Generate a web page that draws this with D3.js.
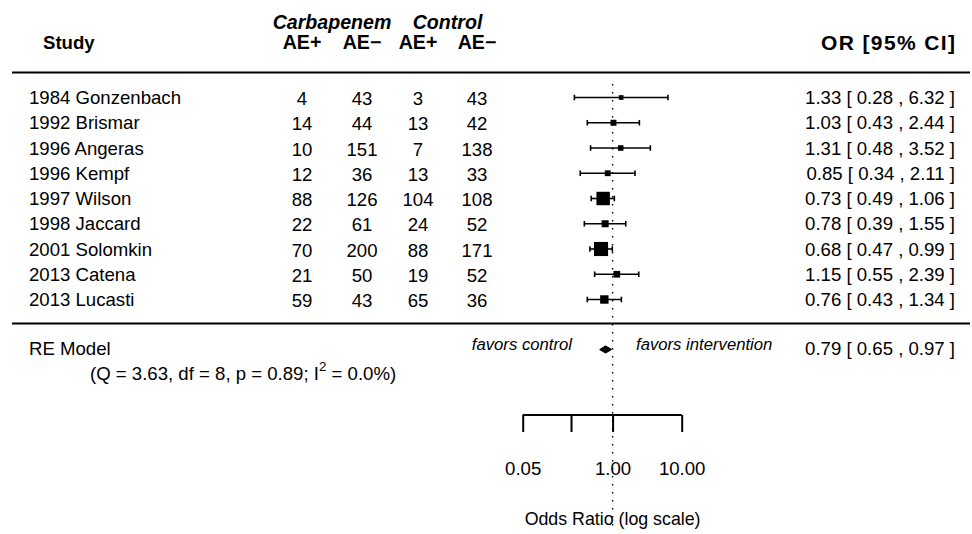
<!DOCTYPE html>
<html><head><meta charset="utf-8">
<script src="https://cdn.jsdelivr.net/npm/d3@7"></script>
<style>
html,body{margin:0;padding:0;background:#fff;}
svg text{font-family:"Liberation Sans",Arial,Helvetica,sans-serif;fill:#000;}
</style></head>
<body><svg id="c" width="972" height="534"></svg>
<script>
// ---- data ----
const studies = ["1984 Gonzenbach","1992 Brismar","1996 Angeras","1996 Kempf","1997 Wilson","1998 Jaccard","2001 Solomkin","2013 Catena","2013 Lucasti"];
const carbAEpos = [4,14,10,12,88,22,70,21,59];
const carbAEneg = [43,44,151,36,126,61,200,50,43];
const ctrlAEpos = [3,13,7,13,104,24,88,19,65];
const ctrlAEneg = [43,42,138,33,108,52,171,52,36];
const orValues = [1.33,1.03,1.31,0.85,0.73,0.78,0.68,1.15,0.76];
const ciLower = [0.28,0.43,0.48,0.34,0.49,0.39,0.47,0.55,0.43];
const ciUpper = [6.32,2.44,3.52,2.11,1.06,1.55,0.99,2.39,1.34];
const summaryOR = 0.79, summaryLower = 0.65, summaryUpper = 0.97;
const heterogeneity = {Q:"3.63", df:"8", p:"0.89", I2:"0.0"};
const tickValues = [0.05, 0.25, 1, 10];
const tickLabels = ["0.05", "", "1.00", "10.00"];

// ---- layout ----
const svg = d3.select("#c");
const FS = 18.6;     // body text
const HFS = 19.6;    // header text
const x = d3.scaleLog().domain([0.05, 10]).range([522.7, 681.7]);
const y = d3.scalePoint().domain(d3.range(studies.length)).range([97.5, 299.5]);
const colX = [302, 362, 418, 477];
const annX = 955;

const fmt = d3.format(".2f");

// horizontal rules
[72.5, 323.5].forEach(yy => svg.append("line").attr("x1",12).attr("x2",970)
  .attr("y1",yy).attr("y2",yy).attr("stroke","#000").attr("stroke-width",2));

// reference line at 1
svg.append("line").attr("x1",x(1)).attr("x2",x(1)).attr("y1",84).attr("y2",529)
  .attr("stroke","#000").attr("stroke-width",1.4).attr("stroke-dasharray","1.6,6.4");

// headers
const hdr = (t, xx, yy, anchor, style) => svg.append("text").attr("x",xx).attr("y",yy)
  .attr("text-anchor",anchor).attr("dominant-baseline","central")
  .attr("font-size",HFS).attr("font-weight","bold").attr("font-style",style||"normal").text(t);
hdr("Carbapenem", (colX[0]+colX[1])/2, 21.7, "middle", "italic");
hdr("Control", (colX[2]+colX[3])/2, 21.7, "middle", "italic");
hdr("Study", 43, 42, "start").attr("font-size",FS);
["AE+","AE\u2212","AE+","AE\u2212"].forEach((t,i)=>hdr(t,colX[i],42,"middle"));
hdr("OR [95% CI]", annX, 42, "end").attr("font-size",21).attr("textLength",134).attr("lengthAdjust","spacing");

// study rows
const rows = svg.append("g");
const txt = (g, t, xx, yy, anchor) => g.append("text").attr("x",xx).attr("y",yy)
  .attr("text-anchor",anchor).attr("dominant-baseline","central").attr("font-size",FS).text(t);

// weights for square sizes (inverse variance from CI)
const se = ciLower.map((l,i)=> (Math.log(ciUpper[i])-Math.log(l))/(2*1.96));
const w = se.map(s=>1/(s*s));
const wMin = d3.min(w), wMax = d3.max(w);
const side = w.map(v => 9.4*(0.5 + (v-wMin)/(wMax-wMin)));

studies.forEach((s,i)=>{
  const yy = y(i);
  txt(rows, s, 29, yy, "start");
  [carbAEpos[i], carbAEneg[i], ctrlAEpos[i], ctrlAEneg[i]].forEach((v,j)=>txt(rows, v, colX[j], yy+1, "middle"));
  txt(rows, `${fmt(orValues[i])} [ ${fmt(ciLower[i])} , ${fmt(ciUpper[i])} ]`, annX, yy, "end");
  // CI
  rows.append("line").attr("x1",x(ciLower[i])).attr("x2",x(ciUpper[i])).attr("y1",yy).attr("y2",yy)
    .attr("stroke","#000").attr("stroke-width",1.6);
  [ciLower[i], ciUpper[i]].forEach(v=>rows.append("line").attr("x1",x(v)).attr("x2",x(v))
    .attr("y1",yy-2.8).attr("y2",yy+2.8).attr("stroke","#000").attr("stroke-width",1.6));
  rows.append("rect").attr("x",x(orValues[i])-side[i]/2).attr("y",yy-side[i]/2)
    .attr("width",side[i]).attr("height",side[i]).attr("fill","#000");
});

// summary
const sy = 348;
txt(svg, "RE Model", 29, sy, "start");
const het = svg.append("text").attr("x",90).attr("y",373).attr("dominant-baseline","central").attr("font-size",FS);
het.append("tspan").text(`(Q = ${heterogeneity.Q}, df = ${heterogeneity.df}, p = ${heterogeneity.p}; I`);
het.append("tspan").attr("dy",-7).attr("font-size",FS*0.72).text("2");
het.append("tspan").attr("dy",7).text(` = ${heterogeneity.I2}%)`);
txt(svg, `${fmt(summaryOR)} [ ${fmt(summaryLower)} , ${fmt(summaryUpper)} ]`, annX, sy, "end");
const dh = 3.6;
svg.append("path").attr("d", `M${x(summaryLower)},${sy+1.5}L${x(summaryOR)},${sy+1.5-dh}L${x(summaryUpper)},${sy+1.5}L${x(summaryOR)},${sy+1.5+dh}Z`)
  .attr("fill","#000").attr("stroke","#000").attr("stroke-width",1);

svg.append("text").attr("x",572).attr("y",344.5).attr("text-anchor","end").attr("dominant-baseline","central")
  .attr("font-size",16.7).attr("font-style","italic").text("favors control");
svg.append("text").attr("x",636).attr("y",344.5).attr("text-anchor","start").attr("dominant-baseline","central")
  .attr("font-size",16.7).attr("font-style","italic").text("favors intervention");

// axis
const axisG = svg.append("g").attr("transform","translate(0,415)");
const axis = d3.axisBottom(x).tickValues(tickValues).tickFormat((d,i)=>tickLabels[i]).tickSizeOuter(0).tickSizeInner(17).tickPadding(30);
axisG.call(axis);
axisG.select(".domain").attr("stroke","#000").attr("stroke-width",2).attr("d",`M${x(0.05)},0H${x(10)}`);
axisG.selectAll(".tick line").attr("stroke","#000").attr("stroke-width",2);
axisG.selectAll(".tick text").attr("font-size",FS).attr("font-family","Liberation Sans, Arial, sans-serif").attr("fill","#000");

svg.append("text").attr("x",x(1)).attr("y",519).attr("text-anchor","middle").attr("dominant-baseline","central")
  .attr("font-size",17.8).text("Odds Ratio (log scale)");
</script></body></html>
